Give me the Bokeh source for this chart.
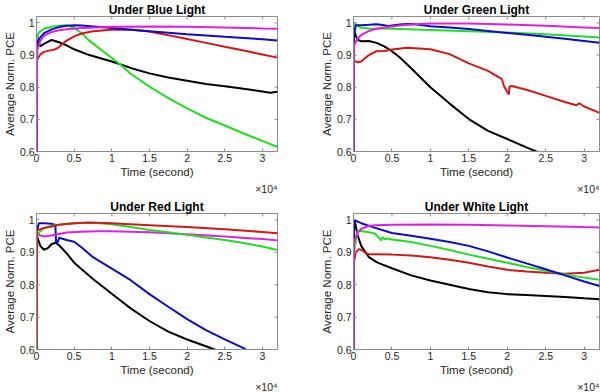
from math import pi
from bokeh.plotting import figure
from bokeh.layouts import column, row
from bokeh.models import FixedTicker, Range1d, Title
from bokeh.embed import file_html
from bokeh.resources import INLINE

# ---------------- data ----------------
X_TICKS = [0, 5000, 10000, 15000, 20000, 25000, 30000]
X_TICK_LABELS = ["0", "0.5", "1", "1.5", "2", "2.5", "3"]
Y_TICKS = [0.6, 0.7, 0.8, 0.9, 1.0]
Y_TICK_LABELS = ["0.6", "0.7", "0.8", "0.9", "1"]
TITLES = ["Under Blue Light", "Under Green Light", "Under Red Light", "Under White Light"]

# Under Blue Light
blue_black_t = [0, 80, 500, 1000, 2000, 3000, 4000, 5000, 7000, 10000, 12500, 15000, 17500, 20000, 22500, 25000, 27500, 30000, 31000, 32000]
blue_black_y = [0.5, 0.955, 0.927, 0.935, 0.947, 0.94, 0.93, 0.918, 0.9, 0.88, 0.86, 0.843, 0.83, 0.82, 0.81, 0.803, 0.795, 0.787, 0.783, 0.786]
blue_blue_t = [0, 80, 500, 1000, 2000, 3000, 4000, 5000, 6000, 8000, 10000, 15000, 20000, 25000, 27000, 30000, 32000]
blue_blue_y = [0.5, 0.94, 0.955, 0.968, 0.98, 0.987, 0.991, 0.993, 0.992, 0.988, 0.984, 0.974, 0.965, 0.957, 0.954, 0.949, 0.945]
blue_green_t = [0, 80, 300, 1000, 2000, 3000, 4000, 5000, 6000, 7000, 8000, 9000, 10000, 11000, 12500, 15000, 17500, 20000, 22500, 25000, 27500, 30000, 32000]
blue_green_y = [0.5, 0.95, 0.97, 0.982, 0.988, 0.991, 0.993, 0.985, 0.968, 0.945, 0.927, 0.909, 0.891, 0.873, 0.842, 0.802, 0.766, 0.734, 0.705, 0.681, 0.656, 0.633, 0.614]
blue_red_t = [0, 80, 500, 1000, 1500, 2500, 3000, 4000, 5000, 6000, 7500, 10000, 12500, 15000, 17500, 20000, 22500, 25000, 27500, 30000, 32000]
blue_red_y = [0.5, 0.886, 0.902, 0.91, 0.913, 0.918, 0.925, 0.945, 0.958, 0.967, 0.974, 0.979, 0.979, 0.973, 0.962, 0.95, 0.938, 0.926, 0.914, 0.902, 0.892]
blue_magenta_t = [0, 80, 500, 1000, 2000, 3000, 4000, 6000, 8000, 10000, 15000, 20000, 25000, 30000, 32000]
blue_magenta_y = [0.5, 0.915, 0.945, 0.96, 0.972, 0.977, 0.98, 0.984, 0.986, 0.988, 0.989, 0.988, 0.986, 0.983, 0.982]

# Under Green Light
green_black_t = [0, 60, 150, 500, 1000, 2000, 3000, 4000, 5000, 6000, 7500, 10000, 12500, 15000, 17500, 20000, 22500, 25000]
green_black_y = [0.5, 0.965, 0.97, 0.948, 0.943, 0.944, 0.938, 0.927, 0.912, 0.893, 0.859, 0.8, 0.749, 0.701, 0.664, 0.639, 0.613, 0.588]
green_blue_t = [0, 60, 300, 1000, 2000, 3000, 4000, 4500, 5000, 6000, 7000, 8000, 10000, 12500, 15000, 17500, 20000, 22500, 25000, 27500, 30000, 32000]
green_blue_y = [0.5, 0.96, 0.993, 0.993, 0.994, 0.996, 0.993, 0.99, 0.992, 0.995, 0.997, 0.996, 0.99, 0.986, 0.981, 0.975, 0.969, 0.963, 0.957, 0.951, 0.944, 0.938]
green_green_t = [0, 60, 200, 600, 1000, 2000, 5000, 10000, 15000, 20000, 25000, 30000, 32000]
green_green_y = [0.5, 0.965, 0.998, 0.99, 0.985, 0.983, 0.982, 0.978, 0.974, 0.97, 0.965, 0.958, 0.955]
green_red_t = [0, 60, 500, 1000, 2000, 3000, 4000, 5000, 7000, 10000, 12500, 15000, 17500, 19300, 19600, 20200, 20300, 20600, 22500, 25000, 27500, 29000, 29400, 30000, 32000]
green_red_y = [0.5, 0.883, 0.878, 0.88, 0.9, 0.912, 0.913, 0.917, 0.923, 0.918, 0.903, 0.874, 0.851, 0.825, 0.802, 0.777, 0.802, 0.804, 0.792, 0.773, 0.754, 0.744, 0.75, 0.74, 0.72]
green_magenta_t = [0, 60, 500, 1000, 2000, 3000, 4000, 6000, 8000, 10000, 15000, 20000, 25000, 30000, 32000]
green_magenta_y = [0.5, 0.93, 0.95, 0.962, 0.975, 0.982, 0.986, 0.992, 0.996, 0.998, 0.998, 0.995, 0.991, 0.986, 0.984]

# Under Red Light
red_black_t = [0, 60, 500, 1000, 1500, 2000, 2500, 3000, 4000, 5000, 7500, 10000, 12500, 15000, 17500, 20000, 22500, 25000]
red_black_y = [0.5, 0.95, 0.92, 0.908, 0.913, 0.925, 0.93, 0.922, 0.897, 0.868, 0.818, 0.772, 0.727, 0.688, 0.655, 0.631, 0.61, 0.588]
red_blue_t = [0, 60, 300, 1000, 2000, 2500, 2600, 2800, 3000, 4000, 5000, 6000, 7500, 10000, 12500, 15000, 17500, 20000, 22500, 25000, 27500, 27800]
red_blue_y = [0.5, 0.965, 0.99, 0.99, 0.988, 0.985, 0.93, 0.93, 0.945, 0.938, 0.933, 0.915, 0.885, 0.85, 0.814, 0.771, 0.732, 0.694, 0.66, 0.631, 0.604, 0.6]
red_green_t = [0, 60, 500, 1000, 2000, 3000, 4000, 6000, 8000, 10000, 12500, 15000, 17500, 20000, 22500, 25000, 27500, 30000, 32000]
red_green_y = [0.5, 0.95, 0.965, 0.975, 0.982, 0.985, 0.988, 0.991, 0.991, 0.987, 0.978, 0.969, 0.962, 0.954, 0.946, 0.938, 0.929, 0.918, 0.907]
red_red_t = [0, 60, 1000, 2000, 3000, 5000, 7000, 10000, 15000, 20000, 25000, 30000, 32000]
red_red_y = [0.5, 0.968, 0.975, 0.98, 0.985, 0.99, 0.992, 0.99, 0.984, 0.978, 0.971, 0.963, 0.959]
red_magenta_t = [0, 60, 500, 1000, 2000, 3000, 4000, 6000, 8000, 10000, 15000, 20000, 25000, 30000, 32000]
red_magenta_y = [0.5, 0.958, 0.952, 0.949, 0.952, 0.957, 0.961, 0.964, 0.965, 0.965, 0.962, 0.956, 0.949, 0.941, 0.937]

# Under White Light
white_black_t = [0, 60, 150, 500, 1000, 2000, 3000, 4000, 5000, 7500, 10000, 12500, 15000, 17500, 20000, 22500, 25000, 27500, 30000, 32000]
white_black_y = [0.5, 0.97, 1.0, 0.955, 0.92, 0.885, 0.87, 0.86, 0.851, 0.829, 0.813, 0.8, 0.787, 0.777, 0.771, 0.768, 0.765, 0.762, 0.758, 0.755]
white_blue_t = [0, 60, 200, 1000, 2500, 5000, 7500, 10000, 12500, 15000, 17500, 20000, 22500, 25000, 27500, 30000, 32000]
white_blue_y = [0.5, 0.98, 0.999, 0.99, 0.978, 0.96, 0.951, 0.942, 0.932, 0.92, 0.903, 0.884, 0.866, 0.848, 0.829, 0.81, 0.796]
white_green_t = [0, 60, 500, 1000, 2000, 2800, 3300, 3600, 3800, 4100, 4300, 5000, 7500, 10000, 12500, 15000, 17500, 20000, 22500, 25000, 27500, 30000, 32000]
white_green_y = [0.5, 0.9, 0.965, 0.966, 0.962, 0.958, 0.945, 0.937, 0.947, 0.94, 0.943, 0.94, 0.932, 0.92, 0.907, 0.893, 0.88, 0.868, 0.855, 0.843, 0.832, 0.822, 0.815]
white_red_t = [0, 60, 300, 700, 1000, 1500, 2000, 3000, 5000, 7500, 10000, 12500, 15000, 17500, 20000, 22500, 25000, 27500, 30000, 32000]
white_red_y = [0.5, 0.87, 0.9, 0.91, 0.908, 0.9, 0.894, 0.894, 0.893, 0.89, 0.885, 0.877, 0.868, 0.856, 0.846, 0.841, 0.837, 0.834, 0.837, 0.846]
white_magenta_t = [0, 60, 500, 1000, 2000, 3000, 5000, 10000, 15000, 20000, 25000, 30000, 32000]
white_magenta_y = [0.5, 0.93, 0.96, 0.972, 0.982, 0.984, 0.985, 0.986, 0.985, 0.983, 0.981, 0.978, 0.977]

COLORS = {"black": "#000000", "blue": "#0c0cc4", "green": "#22dd22",
          "red": "#d01818", "magenta": "#e020e0"}

PANELS = [
    [("black", blue_black_t, blue_black_y), ("green", blue_green_t, blue_green_y),
     ("red", blue_red_t, blue_red_y), ("blue", blue_blue_t, blue_blue_y),
     ("magenta", blue_magenta_t, blue_magenta_y)],
    [("black", green_black_t, green_black_y), ("red", green_red_t, green_red_y),
     ("green", green_green_t, green_green_y), ("blue", green_blue_t, green_blue_y),
     ("magenta", green_magenta_t, green_magenta_y)],
    [("black", red_black_t, red_black_y), ("blue", red_blue_t, red_blue_y),
     ("magenta", red_magenta_t, red_magenta_y), ("green", red_green_t, red_green_y),
     ("red", red_red_t, red_red_y)],
    [("black", white_black_t, white_black_y), ("red", white_red_t, white_red_y),
     ("green", white_green_t, white_green_y), ("blue", white_blue_t, white_blue_y),
     ("magenta", white_magenta_t, white_magenta_y)],
]

X_MIN, X_MAX = 0, 32000
Y_MIN, Y_MAX = 0.6, 1.02

FONT = "Liberation Sans"
TXT = "#262626"
FRAME = "#8c8c8c"


def make_panel(title, series, width, height, left, right, top, bottom):
    p = figure(width=width, height=height, output_backend="svg", toolbar_location=None,
               x_range=Range1d(X_MIN, X_MAX), y_range=Range1d(Y_MIN, Y_MAX),
               min_border_left=left, min_border_right=right,
               min_border_top=top, min_border_bottom=bottom,
               background_fill_color="white", border_fill_color="white",
               title=title)
    p.title.align = "center"
    p.title.text_font = FONT
    p.title.text_font_size = "12px"
    p.title.text_font_style = "bold"
    p.title.text_color = "#000000"
    p.title.standoff = 0
    p.outline_line_color = FRAME
    p.outline_line_width = 1
    p.xgrid.visible = False
    p.ygrid.visible = False

    for ax, ticks, labels in ((p.xaxis[0], X_TICKS, X_TICK_LABELS), (p.yaxis[0], Y_TICKS, Y_TICK_LABELS)):
        ax.ticker = FixedTicker(ticks=ticks)
        ax.major_label_overrides = {t: l for t, l in zip(ticks, labels)}
        ax.major_tick_in = 3
        ax.major_tick_out = 0
        ax.minor_tick_line_color = None
        ax.axis_line_color = FRAME
        ax.major_tick_line_color = FRAME
        ax.major_label_text_font = FONT
        ax.major_label_text_font_size = "10.5px"
        ax.major_label_text_color = TXT
        ax.major_label_standoff = 2
        ax.axis_label_text_font = FONT
        ax.axis_label_text_font_size = "11.5px"
        ax.axis_label_text_font_style = "normal"
        ax.axis_label_text_color = TXT
        ax.axis_label_standoff = 1
    p.xaxis.axis_label = "Time (second)"
    p.yaxis.axis_label = "Average Norm. PCE"

    # inward ticks on the top and right edges of the box
    p.ray(x=X_TICKS, y=[Y_MAX] * len(X_TICKS), length=3, length_units="screen",
          angle=-pi / 2, line_color=FRAME, line_width=1)
    p.ray(x=[X_MAX] * len(Y_TICKS), y=Y_TICKS, length=3, length_units="screen",
          angle=pi, line_color=FRAME, line_width=1)

    for cname, t, y in series:
        p.line(t, y, line_color=COLORS[cname], line_width=2)

    exp_title = Title(text="×10⁴", align="right", text_font=FONT, text_font_size="10.5px",
                      text_font_style="normal", text_color=TXT, standoff=0)
    p.add_layout(exp_title, "below")
    return p


p1 = make_panel(TITLES[0], PANELS[0], 300, 194, 31, 23, 13, 38)
p2 = make_panel(TITLES[1], PANELS[1], 300, 194, 53, 1, 13, 38)
p3 = make_panel(TITLES[2], PANELS[2], 300, 198, 31, 23, 19, 30)
p4 = make_panel(TITLES[3], PANELS[3], 300, 198, 53, 1, 19, 30)

layout = column(row(p1, p2), row(p3, p4))

open("out.html", "w").write(file_html(layout, INLINE))
